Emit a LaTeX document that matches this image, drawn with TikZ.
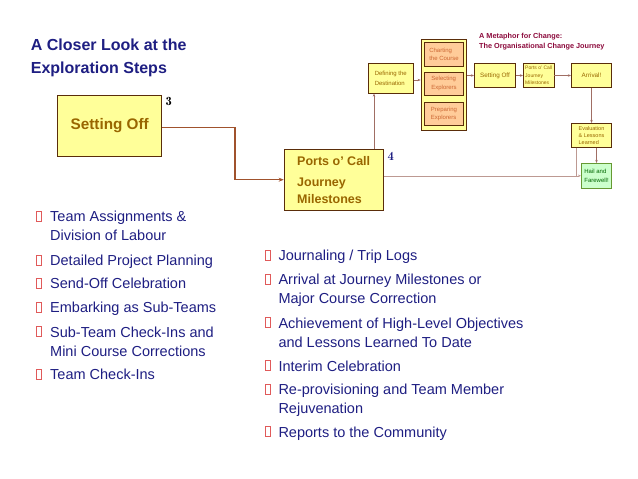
\documentclass[tikz,border=0pt]{standalone}
\usepackage{fontspec}
\setmainfont{Liberation Sans}
\usetikzlibrary{arrows.meta}
\definecolor{navy}{RGB}{30,30,130}
\definecolor{boxtext}{RGB}{153,102,0}
\definecolor{yfill}{RGB}{255,255,153}
\definecolor{bord}{RGB}{90,45,10}
\definecolor{peach}{RGB}{255,204,153}
\definecolor{peachtext}{RGB}{204,102,51}
\definecolor{gfill}{RGB}{204,255,204}
\definecolor{gbord}{RGB}{102,153,51}
\definecolor{gtext}{RGB}{0,102,0}
\definecolor{maroon}{RGB}{140,10,60}
\definecolor{bigconn}{RGB}{160,82,45}
\definecolor{smconn}{RGB}{160,110,100}
\definecolor{bulletred}{RGB}{224,90,90}
\begin{document}
\begin{tikzpicture}[x=1pt,y=-1pt,
  bigbox/.style={draw=bord,line width=0.8pt,fill=yfill,text=boxtext,inner sep=0pt,font=\bfseries},
  smbox/.style={draw=bord,line width=0.7pt,fill=yfill,text=boxtext,inner sep=0pt,align=left,font=\fontsize{6}{8}\selectfont},
  pbox/.style={smbox,fill=peach,text=peachtext},
  conn/.style={draw=bigconn,line width=1.2pt,-{Stealth[length=5pt,width=4pt]}},
  thin/.style={draw=smconn,line width=0.6pt},
  thinarr/.style={thin,-{Stealth[length=3pt,width=2.5pt]}},
  item/.style={anchor=north west,inner sep=0pt,text=navy,align=left,font=\fontsize{14.5}{19}\selectfont},
  bul/.style={draw=bulletred,line width=0.6pt,minimum width=5pt,minimum height=10pt,inner sep=0pt},
  num/.style={font=\fontfamily{lmr}\bfseries\fontsize{12.5}{14}\selectfont,inner sep=0pt}
]
\useasboundingbox (0,0) rectangle (638,479);

% title
\node[anchor=north west,inner sep=0pt,text=navy,align=left,font=\bfseries\fontsize{16}{23.7}\selectfont] (title) at (30.7,38.5) {A Closer Look at the\\Exploration Steps};

% big boxes
\node[bigbox,minimum width=104pt,minimum height=61.4pt,font=\bfseries\fontsize{15.3}{18}\selectfont] (SetOff) at (109.7,126) {Setting Off};
\node[num] (n3) at (168.7,101.7) {3};
\node[bigbox,minimum width=99.3pt,minimum height=60.7pt,align=left,font=\bfseries\fontsize{12.5}{16.7}\selectfont] (Ports) at (333.7,179.7) {Ports o’ Call\\[4.9pt]Journey\\Milestones};
\node[num,text=navy] (n4) at (390.7,156.7) {4};

% small diagram
\node[anchor=north west,inner sep=0pt,text=maroon,align=left,font=\bfseries\fontsize{7.3}{9.3}\selectfont] (mtitle) at (479,33.5) {A Metaphor for Change:\\The Organisational Change Journey};
\node[smbox,minimum width=45pt,minimum height=30pt,font=\fontsize{6}{10}\selectfont] (Def) at (390.8,78.3) {Defining the\\Destination};
\node[smbox,minimum width=45.7pt,minimum height=90.7pt] (Group) at (443.8,84.7) {};
\node[pbox,minimum width=39.4pt,minimum height=24.7pt] (Chart) at (444,54.3) {Charting\\the Course};
\node[pbox,minimum width=39.4pt,minimum height=23.7pt,font=\fontsize{6}{9}\selectfont] (Select) at (444,83.8) {Selecting\\Explorers};
\node[pbox,minimum width=39.4pt,minimum height=23.7pt,font=\fontsize{6}{8.3}\selectfont] (Prep) at (444,113.8) {Preparing\\Explorers};
\node[smbox,minimum width=41.4pt,minimum height=24.4pt,font=\fontsize{6.3}{8}\selectfont] (SetSm) at (495,75.5) {Setting Off};
\node[smbox,minimum width=30.7pt,minimum height=24.4pt,font=\fontsize{5}{7.5}\selectfont] (PortsSm) at (538.7,75.5) {Ports o’ Call\\Journey\\Milestones};
\node[smbox,minimum width=40.4pt,minimum height=24.4pt,font=\fontsize{6.3}{8}\selectfont] (Arr) at (591.5,75.5) {Arrival!};
\node[smbox,minimum width=40.4pt,minimum height=24pt,font=\fontsize{5.5}{6.9}\selectfont] (Eval) at (591.5,135.3) {Evaluation\\\& Lessons\\Learned};
\node[smbox,fill=gfill,draw=gbord,text=gtext,minimum width=30.4pt,minimum height=25pt,font=\fontsize{6}{8.3}\selectfont] (Hail) at (596.5,175.8) {Hail and\\Farewell!};

% connectors
\coordinate (c1) at (235,127.7);
\draw[conn] (SetOff.east |- c1) -- (c1) -- (c1 |- Ports.west) -- (Ports.west);
\coordinate (v1) at (374,0);
\draw[thinarr] (Ports.north -| v1) -- (Def.south -| v1);
\draw[thinarr,draw=smconn!70] (Ports.east |- Hail.west) -- (Hail.west);
\coordinate (v2) at (576,0);
\draw[thin,draw=smconn!70] (Eval.south -| v2) -- (v2 |- Hail.west);
\draw[thinarr] (Eval.south -| Hail.north) -- (Hail.north);
\draw[thinarr] (Arr.south) -- (Eval.north);
\draw[thinarr] (Def.east |- 0,80) -- (Group.west |- 0,80);
\draw[thinarr] (Group.east |- SetSm.west) -- (SetSm.west);
\draw[thinarr] (SetSm.east) -- (PortsSm.west);
\draw[thinarr] (PortsSm.east) -- (Arr.west);

% left list
\node[bul] (b1) at (39.2,216) {};
\node[item] (l1) at (50,210.6) {Team Assignments \&\\Division of Labour};
\node[bul] (b2) at (39.2,260) {};
\node[item] (l2) at (50,254.6) {Detailed Project Planning};
\node[bul] (b3) at (39.2,283.3) {};
\node[item] (l3) at (50,277.9) {Send-Off Celebration};
\node[bul] (b4) at (39.2,307.3) {};
\node[item] (l4) at (50,301.9) {Embarking as Sub-Teams};
\node[bul] (b5) at (39.2,331.7) {};
\node[item] (l5) at (50,326.3) {Sub-Team Check-Ins and\\Mini Course Corrections};
\node[bul] (b6) at (39.2,374.3) {};
\node[item] (l6) at (50,368.9) {Team Check-Ins};

% right list
\node[bul] (r1b) at (267.5,255) {};
\node[item] (r1) at (278.3,249.6) {Journaling / Trip Logs};
\node[bul] (r2b) at (267.5,279) {};
\node[item] (r2) at (278.3,273.6) {Arrival at Journey Milestones or\\Major Course Correction};
\node[bul] (r3b) at (267.5,322.7) {};
\node[item] (r3) at (278.3,317.3) {Achievement of High-Level Objectives\\and Lessons Learned To Date};
\node[bul] (r4b) at (267.5,365.7) {};
\node[item] (r4) at (278.3,360.3) {Interim Celebration};
\node[bul] (r5b) at (267.5,389.3) {};
\node[item] (r5) at (278.3,383.9) {Re-provisioning and Team Member\\Rejuvenation};
\node[bul] (r6b) at (267.5,431.7) {};
\node[item] (r6) at (278.3,426.3) {Reports to the Community};
\end{tikzpicture}
\end{document}
